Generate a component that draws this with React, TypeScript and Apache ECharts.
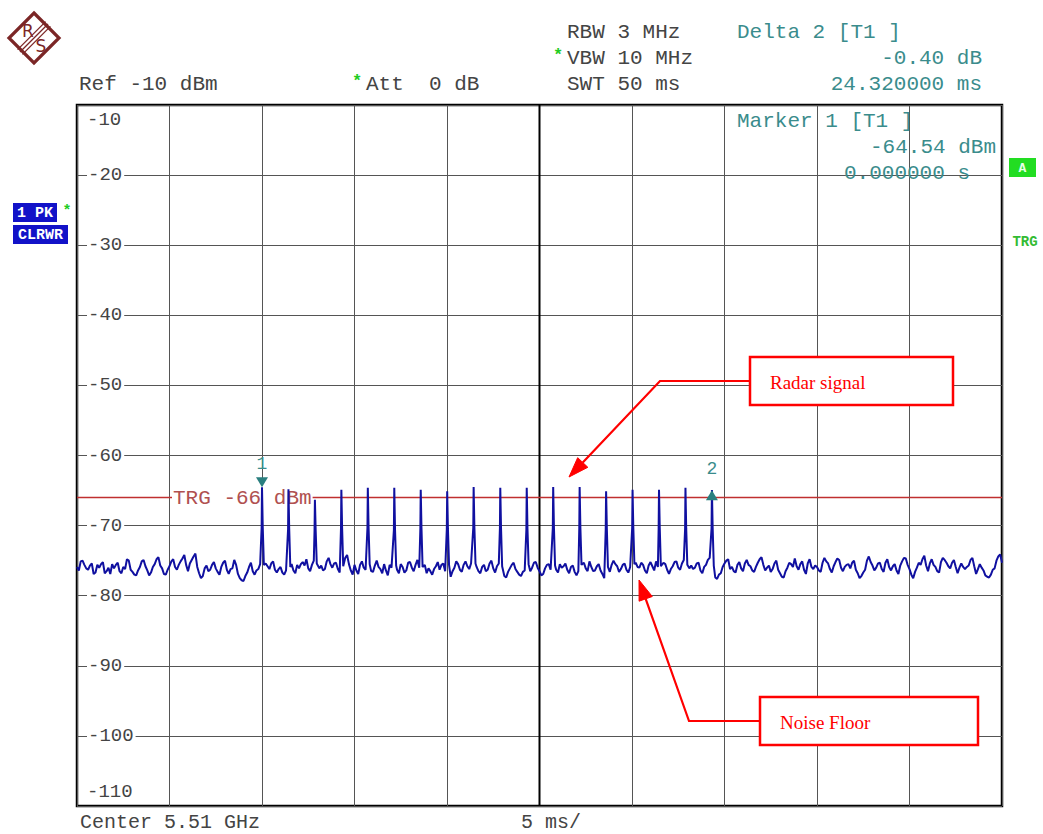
import React, { useEffect, useRef } from "react";
import * as echarts from "echarts";

// ---- Data ----
const X_MIN_MS = 0;
const X_MAX_MS = 50;
const X_DIV_MS = 5;
const Y_MIN_DBM = -110;
const Y_MAX_DBM = -10;
const Y_DIV_DB = 10;
const TRIGGER_DBM = -66;
const NOISE_STEP_MS = 0.2;

// noise floor trace, samples at 0.0, 0.2, 0.4 ... 50.0 ms
const noiseEvenDbm = [
  -75.9, -75.1, -75.6, -76.3, -75.4, -76.7, -76.0, -75.2, -76.5, -76.9,
  -76.1, -75.3, -76.8, -76.2, -75.0, -76.6, -77.1, -75.9, -74.9, -76.4,
  -76.7, -75.5, -74.5, -76.1, -77.0, -75.8, -74.8, -76.3, -75.1, -74.2,
  -76.5, -74.9, -74.0, -76.8, -77.2, -75.7, -76.3, -75.2, -76.6, -75.9,
  -75.0, -76.9, -76.1, -75.6, -77.5, -77.9, -76.7, -75.3, -77.0, -76.2,
  -76.8, -75.4, -76.2, -75.1, -76.7, -75.9, -77.0, -76.3, -75.5, -76.8,
  -76.1, -75.2, -74.8, -76.5, -75.0, -76.9, -75.7, -76.2, -74.6, -76.0,
  -75.3, -76.7, -75.8, -74.2, -76.4, -75.6, -76.9, -75.1, -76.3, -75.7,
  -76.6, -75.0, -76.2, -75.5, -77.1, -76.0, -75.4, -76.8, -75.9, -76.4,
  -75.2, -76.5, -74.9, -76.7, -75.6, -76.1, -77.0, -75.8, -76.3, -75.4,
  -76.9, -77.3, -76.0, -75.5, -76.6, -75.1, -76.2, -74.7, -75.9, -76.8,
  -75.6, -76.3, -75.0, -76.7, -75.4, -76.9, -77.4, -76.1, -75.3, -76.6,
  -77.2, -76.4, -75.8, -76.0, -75.2, -76.5, -76.9, -75.6, -76.3, -75.1,
  -76.7, -76.0, -75.4, -76.8, -75.7, -77.1, -76.2, -75.3, -76.5, -75.9,
  -76.4, -75.5, -76.9, -77.3, -76.6, -75.0, -75.8, -76.2, -75.4, -76.7,
  -76.1, -75.3, -76.0, -75.6, -76.8, -75.2, -76.4, -75.9, -76.6, -75.5,
  -76.9, -75.8, -75.1, -76.3, -74.9, -76.5, -75.7, -76.0, -75.3, -76.8,
  -75.6, -74.6, -76.9, -77.6, -76.8, -75.4, -74.8, -75.9, -76.7, -75.2,
  -76.5, -74.9, -75.8, -76.6, -75.3, -74.5, -76.4, -75.7, -76.2, -75.0,
  -76.8, -77.4, -76.0, -75.5, -74.7, -76.3, -75.1, -76.9, -74.8, -76.2,
  -75.9, -76.6, -74.6, -75.4, -76.7, -75.2, -74.9, -76.5, -75.6, -76.1,
  -75.0, -76.8, -77.2, -76.3, -74.4, -75.7, -76.0, -75.3, -76.6, -74.8,
  -76.4, -75.5, -76.9, -75.1, -74.7, -76.2, -77.5, -76.0, -75.6, -74.3,
  -76.5, -74.8, -75.9, -76.7, -74.6, -75.3, -76.1, -74.9, -76.8, -75.4,
  -76.2, -75.7, -74.6, -76.9, -75.5, -76.4, -77.3, -77.0, -76.1, -74.4,
  -75.3,
];

// noise floor trace, samples at 0.1, 0.3, 0.5 ... 49.9 ms
const noiseOddDbm = [
  -76.4, -75.0, -76.1, -75.7, -76.9, -75.6, -75.5, -76.8, -76.0, -75.5,
  -75.6, -76.5, -75.9, -74.8, -76.3, -77.0, -76.4, -75.1, -75.8, -77.1,
  -75.9, -74.8, -75.7, -76.9, -76.3, -75.1, -75.9, -75.6, -74.7, -75.6,
  -75.4, -74.4, -75.9, -77.5, -76.1, -76.5, -75.6, -76.1, -77.0, -75.3,
  -76.3, -76.2, -74.9, -76.9, -77.8, -77.2, -75.9, -76.5, -76.4, -75.5,
  -76.0, -75.8, -75.4, -76.3, -76.2, -76.7, -76.4, -75.7, -76.4, -75.6,
  -75.5, -75.7, -76.1, -75.6, -76.4, -76.1, -76.4, -75.1, -75.5, -75.4,
  -76.2, -75.9, -74.6, -75.5, -77.0, -76.4, -75.6, -76.0, -74.9, -76.5,
  -75.7, -75.9, -76.8, -76.4, -75.6, -75.2, -76.3, -75.5, -76.7, -75.3,
  -76.0, -75.6, -76.0, -75.4, -76.8, -76.5, -76.2, -75.2, -75.6, -76.5,
  -77.0, -76.5, -75.1, -76.3, -75.6, -75.8, -75.4, -75.6, -76.5, -75.9,
  -76.5, -75.4, -76.1, -75.8, -76.3, -77.2, -76.6, -75.6, -76.2, -77.0,
  -76.6, -75.4, -76.5, -75.3, -76.0, -77.1, -76.1, -75.5, -75.8, -76.3,
  -75.5, -75.8, -76.3, -75.9, -76.6, -76.5, -75.6, -76.1, -75.1, -76.5,
  -75.8, -76.4, -77.5, -76.7, -75.6, -75.5, -76.6, -75.6, -76.3, -75.9,
  -75.5, -75.9, -75.3, -76.4, -75.7, -75.8, -75.1, -76.6, -75.3, -76.3,
  -76.2, -75.2, -76.0, -75.4, -75.8, -76.1, -76.2, -75.4, -76.4, -75.9,
  -74.9, -75.8, -77.4, -77.0, -75.9, -75.0, -76.2, -76.5, -75.6, -76.1,
  -75.4, -75.6, -76.4, -75.9, -74.8, -75.6, -76.0, -76.6, -75.4, -76.3,
  -77.3, -76.5, -75.3, -75.9, -75.8, -75.5, -76.3, -75.4, -75.9, -75.7,
  -76.4, -75.3, -75.1, -76.2, -75.8, -74.7, -76.0, -75.9, -75.5, -75.3,
  -76.3, -77.5, -76.7, -75.0, -75.2, -76.4, -75.4, -76.2, -75.3, -75.9,
  -75.8, -76.4, -75.7, -74.6, -75.6, -77.0, -76.6, -75.3, -74.8, -75.7,
  -75.4, -75.6, -76.5, -75.2, -74.9, -75.8, -75.3, -75.9, -76.0, -75.9,
  -75.9, -74.9, -75.8, -76.2, -76.0, -77.1, -77.4, -76.3, -75.0, -74.1,
];

// radar pulses: time (ms), peak level (dBm), shoulder level (dBm), tail (dBm)
const pulseTimesMs = [
  10.0, 11.43, 12.86, 14.29, 15.72, 17.15, 18.58, 20.01, 21.44,
  22.88, 24.31, 25.74, 27.17, 28.6, 30.03, 31.46, 32.89, 34.32,
];
const pulsePeakDbm = [
  -64.54, -64.8, -66.3, -64.9, -64.6, -64.6, -64.9, -65.1, -64.5,
  -64.6, -64.6, -64.5, -64.5, -65.1, -64.9, -64.9, -64.6, -64.94,
];
const pulseShoulderDbm = [
  -70.2, -70.4, -70.6, -70.3, -70.2, -70.5, -70.3, -70.4, -70.2,
  -70.3, -70.5, -70.2, -70.3, -70.4, -70.2, -70.3, -70.4, -70.3,
];
const pulseTailDbm = [
  -75.6, -75.9, -75.4, -75.8, -75.5, -75.7, -75.9, -75.6, -75.4,
  -75.8, -75.5, -75.7, -75.6, -75.9, -75.5, -75.8, -75.6, -75.7,
];

// markers
const marker1 = { id: "1", timeMs: 10.0, dbm: -64.54 };
const marker2 = { id: "2", timeMs: 34.32, dbm: -64.94 };

const MONO = '"Liberation Mono", "Courier New", monospace';
const SERIF = '"Liberation Serif", "Times New Roman", serif';
const TEAL = "#3a8c8c";
const DARK = "#444444";
const RED = "#ff0000";

function buildTrace(): number[][] {
  const pts: number[][] = [];
  const nearPulse = (t: number) =>
    pulseTimesMs.some((p) => t > p - 0.05 && t < p + 0.15);
  noiseEvenDbm.forEach((v, i) => {
    const t = +(i * NOISE_STEP_MS).toFixed(2);
    if (!nearPulse(t)) pts.push([t, v]);
  });
  noiseOddDbm.forEach((v, i) => {
    const t = +(i * NOISE_STEP_MS + NOISE_STEP_MS / 2).toFixed(2);
    if (!nearPulse(t)) pts.push([t, v]);
  });
  pulseTimesMs.forEach((t, k) => {
    pts.push([t - 0.02, pulseShoulderDbm[k] - 0.1]);
    pts.push([t, pulsePeakDbm[k]]);
    pts.push([t + 0.04, pulseShoulderDbm[k]]);
    pts.push([t + 0.1, pulseTailDbm[k]]);
  });
  pts.sort((a, b) => a[0] - b[0]);
  return pts;
}

function txt(
  text: string,
  x: number,
  y: number,
  size: number,
  color: string,
  align: string = "left",
  extra: any = {}
) {
  return {
    type: "text",
    x,
    y,
    z: extra.z !== undefined ? extra.z : 10,
    silent: true,
    style: {
      text,
      font: `${extra.weight || "normal"} ${size}px ${extra.family || MONO}`,
      fill: color,
      textAlign: align,
      textVerticalAlign: "middle",
      verticalAlign: "middle",
      ...(extra.style || {}),
    },
  };
}

function arrowHead(tip: number[], from: number[], len = 20, hw = 7) {
  const dx = tip[0] - from[0];
  const dy = tip[1] - from[1];
  const d = Math.hypot(dx, dy);
  const ux = dx / d;
  const uy = dy / d;
  const bx = tip[0] - ux * len;
  const by = tip[1] - uy * len;
  return {
    base: [bx, by],
    poly: [
      [tip[0], tip[1]],
      [bx - uy * hw, by + ux * hw],
      [bx + uy * hw, by - ux * hw],
    ],
  };
}

function callout(
  label: string,
  box: { x: number; y: number; w: number; h: number },
  path: number[][],
  tip: number[]
) {
  const head = arrowHead(tip, path[path.length - 1], 20, 7);
  return [
    {
      type: "polyline",
      z: 20,
      silent: true,
      shape: { points: [...path, head.base] },
      style: { stroke: RED, lineWidth: 2.2, fill: null },
    },
    {
      type: "polygon",
      z: 20,
      silent: true,
      shape: { points: head.poly },
      style: { fill: RED, stroke: RED, lineWidth: 1 },
    },
    {
      type: "rect",
      z: 20,
      silent: true,
      shape: { x: box.x, y: box.y, width: box.w, height: box.h },
      style: { fill: "#ffffff", stroke: RED, lineWidth: 2.5 },
    },
    txt(label, box.x + 20, box.y + box.h / 2 + 1, 19, RED, "left", {
      family: SERIF,
      z: 21,
    }),
  ];
}

export default function App() {
  const ref = useRef<HTMLDivElement>(null);

  useEffect(() => {
    if (!ref.current) return;
    const chart = echarts.init(ref.current, undefined, { renderer: "svg" });

    const LOGO = "#7b2626";
    const graphic: any[] = [
      // R&S logo
      {
        type: "polygon",
        z: 10,
        silent: true,
        shape: { points: [[34, 13], [59, 38], [34, 63], [9, 38]] },
        style: { fill: null, stroke: LOGO, lineWidth: 3.2 },
      },
      ...[-2.4, 0, 2.4].map((o) => ({
        type: "line",
        z: 10,
        silent: true,
        shape: { x1: 20 + o, y1: 52 + o, x2: 48 + o, y2: 24 + o },
        style: { stroke: LOGO, lineWidth: 1.3 },
      })),
      txt("R", 28, 31, 17, LOGO, "center", { family: '"DejaVu Sans", sans-serif' }),
      txt("S", 41, 46, 17, LOGO, "center", { family: '"DejaVu Sans", sans-serif' }),

      // header
      txt("Ref -10 dBm", 79, 84, 21, DARK),
      txt("*", 357, 81, 17, "#22cc22", "center", { weight: "bold" }),
      txt("Att  0 dB", 366, 84, 21, DARK),
      txt("RBW 3 MHz", 567, 32, 21, DARK),
      txt("*", 558, 55, 17, "#22cc22", "center", { weight: "bold" }),
      txt("VBW 10 MHz", 567, 58, 21, DARK),
      txt("SWT 50 ms", 567, 84, 21, DARK),
      txt("Delta 2 [T1 ]", 737, 32, 21, TEAL),
      txt("-0.40 dB", 982, 58, 21, TEAL, "right"),
      txt("24.320000 ms", 982, 84, 21, TEAL, "right"),

      // marker readout inside the diagram
      txt("Marker 1 [T1 ]", 737, 121, 21, TEAL),
      txt("-64.54 dBm", 996, 147, 21, TEAL, "right"),
      txt("0.000000 s", 970, 173, 21, TEAL, "right"),

      // top / bottom scale labels
      txt("-10", 87, 120, 19, "#444"),
      txt("-110", 87, 792, 19, "#444"),

      // trigger level label (under the trace)
      txt("TRG -66 dBm", 172, 498, 21, "#b05050", "left", {
        z: 2,
        style: { backgroundColor: "#ffffff", padding: [2, 1, 2, 1] },
      }),

      // left trace info boxes
      {
        type: "rect",
        z: 10,
        silent: true,
        shape: { x: 13, y: 203, width: 44, height: 19 },
        style: { fill: "#1212c8" },
      },
      txt("1 PK", 35, 213, 15, "#ffffff", "center", { weight: "bold" }),
      txt("*", 67, 211, 15, "#22cc22", "center", { weight: "bold" }),
      {
        type: "rect",
        z: 10,
        silent: true,
        shape: { x: 13, y: 225, width: 55, height: 19 },
        style: { fill: "#1212c8" },
      },
      txt("CLRWR", 40.5, 235, 15, "#ffffff", "center", { weight: "bold" }),

      // right indicators
      {
        type: "rect",
        z: 10,
        silent: true,
        shape: { x: 1009, y: 158, width: 27, height: 19 },
        style: { fill: "#22dd22" },
      },
      txt("A", 1022.5, 168, 13, "#e8ffe8", "center", { weight: "bold" }),
      txt("TRG", 1025, 242, 14, "#33bb33", "center", { weight: "bold" }),

      // footer
      txt("Center 5.51 GHz", 80, 822, 20, DARK),
      txt("5 ms/", 521, 822, 20, DARK),

      // callouts
      ...callout(
        "Radar signal",
        { x: 750, y: 357, w: 203, h: 48 },
        [[750, 381], [660, 381]],
        [569, 477]
      ),
      ...callout(
        "Noise Floor",
        { x: 760, y: 697, w: 218, h: 48 },
        [[760, 721], [689, 721]],
        [639, 580]
      ),
    ];

    chart.setOption({
      animation: false,
      backgroundColor: "#ffffff",
      grid: {
        left: 77,
        top: 105,
        width: 925,
        height: 701,
        show: true,
        borderColor: "#000000",
        borderWidth: 2.5,
        backgroundColor: "transparent",
      },
      xAxis: {
        type: "value",
        min: X_MIN_MS,
        max: X_MAX_MS,
        interval: X_DIV_MS,
        axisLine: { show: false },
        axisTick: { show: false },
        axisLabel: { show: false },
        splitLine: { show: true, lineStyle: { color: "#555555", width: 1 } },
      },
      yAxis: {
        type: "value",
        min: Y_MIN_DBM,
        max: Y_MAX_DBM,
        interval: Y_DIV_DB,
        axisLine: { show: false },
        axisTick: { show: false },
        splitLine: { show: true, lineStyle: { color: "#555555", width: 1 } },
        axisLabel: {
          inside: true,
          margin: 10,
          showMinLabel: false,
          showMaxLabel: false,
          color: "#444",
          fontFamily: MONO,
          fontSize: 19,
          backgroundColor: "#ffffff",
          padding: [1, 2, 1, 1],
        },
      },
      graphic,
      series: [
        {
          type: "line",
          name: "center line",
          z: 1,
          silent: true,
          data: [
            [(X_MIN_MS + X_MAX_MS) / 2, Y_MIN_DBM],
            [(X_MIN_MS + X_MAX_MS) / 2, Y_MAX_DBM],
          ],
          showSymbol: false,
          symbol: "none",
          lineStyle: { color: "#000000", width: 2 },
        },
        {
          type: "line",
          name: "trigger level",
          z: 1,
          silent: true,
          data: [
            [X_MIN_MS, TRIGGER_DBM],
            [X_MAX_MS, TRIGGER_DBM],
          ],
          showSymbol: false,
          symbol: "none",
          lineStyle: { color: "#c03030", width: 1.5 },
        },
        {
          type: "line",
          name: "Trace 1",
          z: 3,
          data: buildTrace(),
          showSymbol: false,
          symbol: "none",
          lineStyle: { color: "#1010a0", width: 2 },
          markPoint: {
            silent: true,
            animation: false,
            data: [
              {
                coord: [marker1.timeMs, marker1.dbm],
                symbol: "triangle",
                symbolSize: [12, 10],
                symbolRotate: 180,
                symbolOffset: [0, -5],
                itemStyle: { color: "#2a7f7f" },
                label: {
                  show: true,
                  formatter: marker1.id,
                  position: "top",
                  distance: 4,
                  color: TEAL,
                  fontFamily: MONO,
                  fontSize: 18,
                },
              },
              {
                coord: [marker2.timeMs, marker2.dbm],
                symbol: "triangle",
                symbolSize: [12, 10],
                symbolOffset: [0, 5],
                itemStyle: { color: "#2a7f7f" },
                label: {
                  show: true,
                  formatter: marker2.id,
                  position: "top",
                  distance: 12,
                  color: TEAL,
                  fontFamily: MONO,
                  fontSize: 18,
                },
              },
            ],
          },
        },
      ],
    });

    return () => chart.dispose();
  }, []);

  return (
    <div
      ref={ref}
      style={{ position: "fixed", left: 0, top: 0, width: 1043, height: 834, background: "#fff" }}
    />
  );
}
